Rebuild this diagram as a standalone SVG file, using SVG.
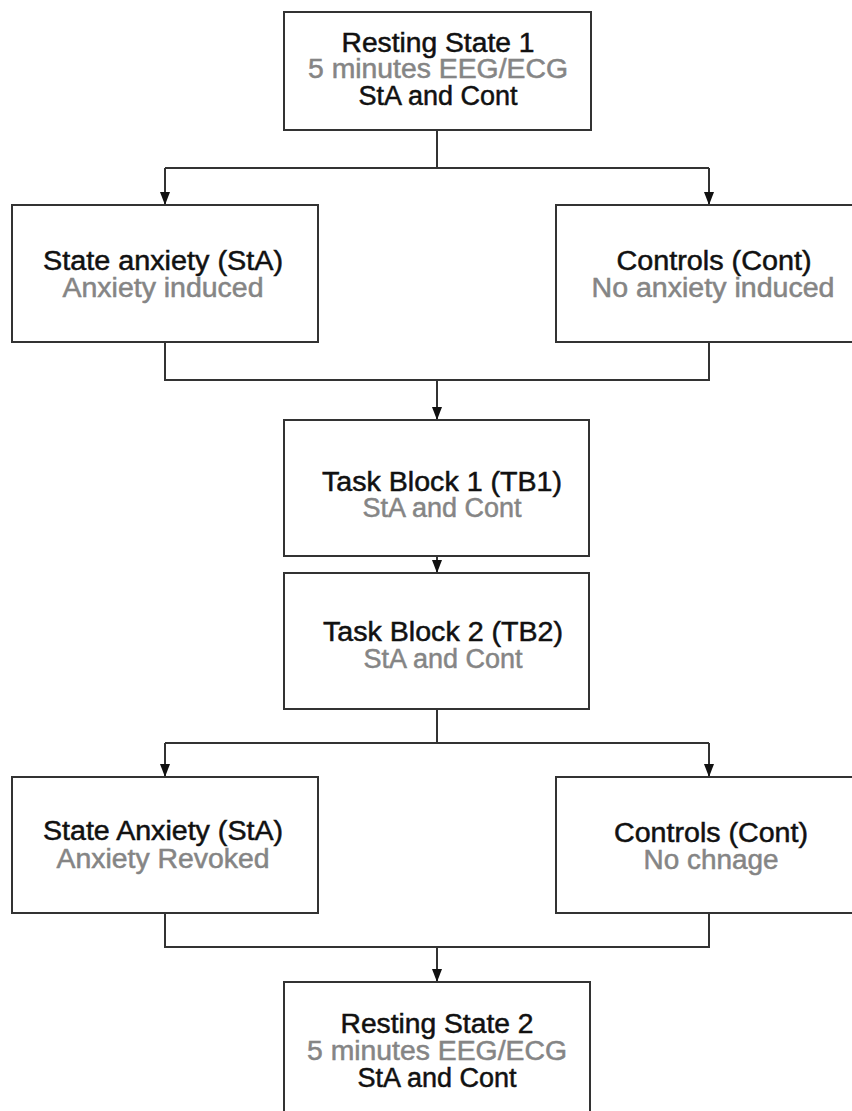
<svg xmlns="http://www.w3.org/2000/svg" width="852" height="1111" viewBox="0 0 852 1111">
<defs>
<marker id="arr" viewBox="0 0 13 10" refX="13" refY="5" markerWidth="13" markerHeight="10" markerUnits="userSpaceOnUse" orient="auto">
<path d="M0,0 L13,5 L0,10 Z" fill="#111"/>
</marker>
<style>
.box{fill:#fff;stroke:#333;stroke-width:2}
.t{font-family:"Liberation Sans",Arial,sans-serif;font-size:27px;text-anchor:middle;fill:#111;stroke:#111;stroke-width:0.5}
.g{fill:#858585;stroke:#858585}
.c{fill:none;stroke:#333;stroke-width:2}
</style>
</defs>
<rect width="852" height="1111" fill="#fff"/>
<g id="connectors">
<path class="c" d="M437,130 V168 M165,168 H709"/>
<path class="c" d="M165,168 V205" marker-end="url(#arr)"/>
<path class="c" d="M709,168 V205" marker-end="url(#arr)"/>
<path class="c" d="M165,342 V380 H709 V342"/>
<path class="c" d="M437,380 V420" marker-end="url(#arr)"/>
<path class="c" d="M437,556 V573" marker-end="url(#arr)"/>
<path class="c" d="M437,709 V743 M165,743 H709"/>
<path class="c" d="M165,743 V777" marker-end="url(#arr)"/>
<path class="c" d="M709,743 V777" marker-end="url(#arr)"/>
<path class="c" d="M165,913 V947 H709 V913"/>
<path class="c" d="M437,947 V982" marker-end="url(#arr)"/>
</g>
<g id="rest1">
<rect class="box" x="284" y="12" width="307" height="118"/>
<text class="t" x="438" y="52" textLength="193" lengthAdjust="spacingAndGlyphs">Resting State 1</text>
<text class="t g" x="438" y="78" textLength="260" lengthAdjust="spacingAndGlyphs">5 minutes EEG/ECG</text>
<text class="t" x="438" y="105">StA and Cont</text>
</g>
<g id="sta1">
<rect class="box" x="12" y="205" width="306" height="137"/>
<text class="t" x="163" y="270" textLength="240" lengthAdjust="spacingAndGlyphs">State anxiety (StA)</text>
<text class="t g" x="163" y="297" textLength="201" lengthAdjust="spacingAndGlyphs">Anxiety induced</text>
</g>
<g id="cont1">
<rect class="box" x="556" y="205" width="310" height="137"/>
<text class="t" x="714" y="270" textLength="195" lengthAdjust="spacingAndGlyphs">Controls (Cont)</text>
<text class="t g" x="713" y="297" textLength="243" lengthAdjust="spacingAndGlyphs">No anxiety induced</text>
</g>
<g id="tb1">
<rect class="box" x="284" y="420" width="305" height="136"/>
<text class="t" x="442" y="491" textLength="240" lengthAdjust="spacingAndGlyphs">Task Block 1 (TB1)</text>
<text class="t g" x="442" y="517">StA and Cont</text>
</g>
<g id="tb2">
<rect class="box" x="284" y="573" width="305" height="136"/>
<text class="t" x="443" y="641" textLength="240" lengthAdjust="spacingAndGlyphs">Task Block 2 (TB2)</text>
<text class="t g" x="443" y="668">StA and Cont</text>
</g>
<g id="sta2">
<rect class="box" x="12" y="777" width="306" height="136"/>
<text class="t" x="163" y="840" textLength="240" lengthAdjust="spacingAndGlyphs">State Anxiety (StA)</text>
<text class="t g" x="163" y="868" textLength="213" lengthAdjust="spacingAndGlyphs">Anxiety Revoked</text>
</g>
<g id="cont2">
<rect class="box" x="556" y="777" width="310" height="136"/>
<text class="t" x="711" y="842" textLength="194" lengthAdjust="spacingAndGlyphs">Controls (Cont)</text>
<text class="t g" x="711" y="869" textLength="135" lengthAdjust="spacingAndGlyphs">No chnage</text>
</g>
<g id="rest2">
<rect class="box" x="284" y="982" width="306" height="140"/>
<text class="t" x="437" y="1033" textLength="193" lengthAdjust="spacingAndGlyphs">Resting State 2</text>
<text class="t g" x="437" y="1060" textLength="260" lengthAdjust="spacingAndGlyphs">5 minutes EEG/ECG</text>
<text class="t" x="437" y="1087">StA and Cont</text>
</g>
</svg>
